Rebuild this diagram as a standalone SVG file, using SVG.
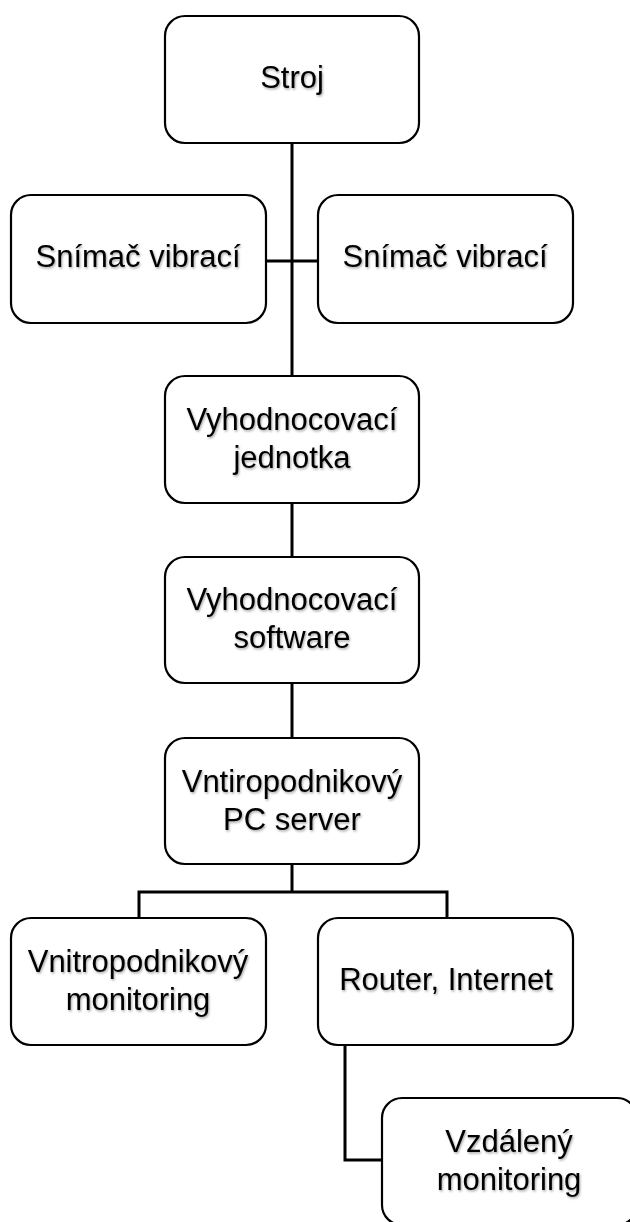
<svg xmlns="http://www.w3.org/2000/svg" width="630" height="1222" viewBox="0 0 630 1222">
<style>
.box{fill:#ffffff;stroke:#000000;stroke-width:2.2}
.lbl{font-family:"Liberation Sans",Arial,sans-serif;font-size:31px;fill:#000000;text-anchor:middle;filter:url(#sh)}
.conn{fill:none;stroke:#000000;stroke-width:3}
</style>
<defs>
<filter id="sh" x="-10%" y="-30%" width="120%" height="160%">
<feDropShadow dx="1" dy="1.5" stdDeviation="1" flood-color="#000000" flood-opacity="0.35"/>
</filter>
</defs>
<rect width="630" height="1222" fill="#ffffff"/>
<g id="connectors">
<line class="conn" x1="292" y1="143" x2="292" y2="376"/>
<line class="conn" x1="266" y1="261" x2="318" y2="261"/>
<line class="conn" x1="292" y1="503" x2="292" y2="557"/>
<line class="conn" x1="292" y1="683" x2="292" y2="738"/>
<line class="conn" x1="292" y1="864" x2="292" y2="892"/>
<polyline class="conn" points="139,918 139,892 447,892 447,918"/>
<polyline class="conn" points="345,1045 345,1160 382,1160"/>
</g>
<g id="stroj">
<rect class="box" x="165" y="16" width="254" height="127" rx="20"/>
<text class="lbl" x="292" y="88">Stroj</text>
</g>
<g id="snimac1">
<rect class="box" x="11" y="195" width="255" height="128" rx="20"/>
<text class="lbl" x="138" y="267">Snímač vibrací</text>
</g>
<g id="snimac2">
<rect class="box" x="318" y="195" width="255" height="128" rx="20"/>
<text class="lbl" x="445" y="267">Snímač vibrací</text>
</g>
<g id="jednotka">
<rect class="box" x="165" y="376" width="254" height="127" rx="20"/>
<text class="lbl" x="292" y="430">Vyhodnocovací</text>
<text class="lbl" x="292" y="468">jednotka</text>
</g>
<g id="software">
<rect class="box" x="165" y="557" width="254" height="126" rx="20"/>
<text class="lbl" x="292" y="610">Vyhodnocovací</text>
<text class="lbl" x="292" y="648">software</text>
</g>
<g id="server">
<rect class="box" x="165" y="738" width="254" height="126" rx="20"/>
<text class="lbl" x="292" y="792">Vntiropodnikový</text>
<text class="lbl" x="292" y="830">PC server</text>
</g>
<g id="vnitro">
<rect class="box" x="11" y="918" width="255" height="127" rx="20"/>
<text class="lbl" x="138" y="972">Vnitropodnikový</text>
<text class="lbl" x="138" y="1010">monitoring</text>
</g>
<g id="router">
<rect class="box" x="318" y="918" width="255" height="127" rx="20"/>
<text class="lbl" x="446" y="990">Router, Internet</text>
</g>
<g id="vzdaleny">
<rect class="box" x="382" y="1098" width="255" height="127" rx="20"/>
<text class="lbl" x="509" y="1152">Vzdálený</text>
<text class="lbl" x="509" y="1190">monitoring</text>
</g>
</svg>
